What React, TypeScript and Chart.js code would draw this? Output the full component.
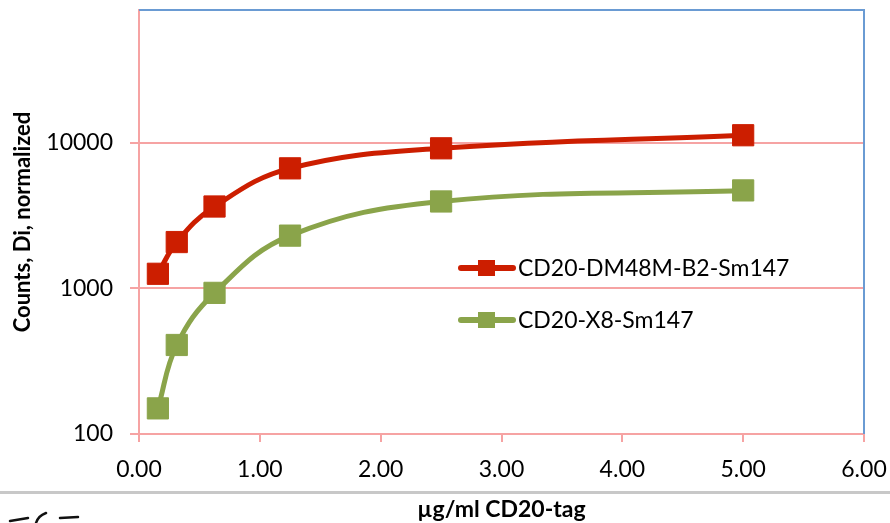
import React, { useEffect, useRef } from "react";
import { Chart, registerables } from "chart.js";

Chart.register(...registerables);

// ---- data ----
const concentrations = [0.15625, 0.3125, 0.625, 1.25, 2.5, 5];
const dm48Counts = [1262, 2085, 3659, 6692, 9190, 11300];
const x8Counts = [150, 409, 933, 2308, 3963, 4721];
const seriesLabels = ["CD20-DM48M-B2-Sm147", "CD20-X8-Sm147"];
const yTickValues = [100, 1000, 10000];
const xTickValues = [0, 1, 2, 3, 4, 5, 6];
const xTitle = "µg/ml CD20-tag";
const yTitle = "Counts, Di, normalized";

const RED = "#CC1E00";
const GREEN = "#8AA44A";
const PINK = "#F6A3A3";
const BLUE = "#6A9BD3";

const decorPlugin = {
  id: "decor",
  afterDraw(chart: any) {
    const { ctx, chartArea: ca } = chart;
    ctx.save();
    // blue top/right plot border
    ctx.strokeStyle = BLUE;
    ctx.lineWidth = 2;
    ctx.beginPath();
    ctx.moveTo(ca.left, ca.top);
    ctx.lineTo(ca.right, ca.top);
    ctx.lineTo(ca.right, ca.bottom);
    ctx.stroke();

    // legend inside plot
    const rows = [268, 320];
    chart.data.datasets.forEach((ds: any, i: number) => {
      const y = rows[i];
      ctx.strokeStyle = ds.borderColor;
      ctx.lineWidth = 6;
      ctx.lineCap = "round";
      ctx.beginPath();
      ctx.moveTo(461, y);
      ctx.lineTo(513, y);
      ctx.stroke();
      ctx.fillStyle = ds.borderColor;
      ctx.fillRect(478, y - 8, 17, 16);
      ctx.fillStyle = "#000";
      ctx.font = "23px Lato";
      ctx.textBaseline = "middle";
      ctx.textAlign = "left";
      ctx.fillText(ds.label, 518, y + 1);
    });

    // separator line
    ctx.fillStyle = "#C8C8C8";
    ctx.fillRect(0, 491, chart.width, 3);

    // fragment of logo
    ctx.strokeStyle = "#111";
    ctx.lineWidth = 2.5;
    ctx.lineCap = "round";
    ctx.beginPath();
    ctx.moveTo(10, 521);
    ctx.lineTo(28, 518);
    ctx.stroke();
    ctx.beginPath();
    ctx.moveTo(46, 513);
    ctx.quadraticCurveTo(38, 516, 36, 523);
    ctx.stroke();
    ctx.beginPath();
    ctx.moveTo(60, 518);
    ctx.lineTo(78, 517);
    ctx.stroke();
    ctx.restore();
  },
};

const zeroPad = (scale: any) => {
  scale.paddingTop = 0;
  scale.paddingBottom = 0;
  scale.paddingLeft = 0;
  scale.paddingRight = 0;
};

export default function App() {
  const canvasRef = useRef<HTMLCanvasElement>(null);

  useEffect(() => {
    if (!canvasRef.current) return;
    Chart.defaults.font.family = "Lato";
    Chart.defaults.color = "#000";
    const chart = new Chart(canvasRef.current, {
      type: "line",
      data: {
        datasets: [
          {
            label: seriesLabels[0],
            data: concentrations.map((x, i) => ({ x, y: dm48Counts[i] })),
            borderColor: RED,
            backgroundColor: RED,
            borderWidth: 5,
            tension: 0.4,
            pointStyle: "rect",
            pointRadius: 15,
            pointBorderWidth: 1,
            pointBorderColor: RED,
            pointBackgroundColor: RED,
          },
          {
            label: seriesLabels[1],
            data: concentrations.map((x, i) => ({ x, y: x8Counts[i] })),
            borderColor: GREEN,
            backgroundColor: GREEN,
            borderWidth: 5,
            tension: 0.4,
            pointStyle: "rect",
            pointRadius: 15,
            pointBorderWidth: 1,
            pointBorderColor: GREEN,
            pointBackgroundColor: GREEN,
          },
        ],
      },
      options: {
        responsive: false,
        animation: false,
        devicePixelRatio: 1,
        layout: { autoPadding: false, padding: { left: 0, right: 26, top: 10, bottom: 0 } },
        plugins: {
          legend: { display: false },
          tooltip: { enabled: false },
        },
        events: [],
        scales: {
          x: {
            type: "linear",
            min: 0,
            max: 6,
            afterBuildTicks: (scale: any) => {
              scale.ticks = xTickValues.map((v) => ({ value: v }));
            },
            afterFit: (scale: any) => {
              scale.height = 89;
              zeroPad(scale);
            },
            ticks: {
              font: { size: 23 },
              padding: 14,
              maxRotation: 0,
              callback: (v: any) => Number(v).toFixed(2),
            },
            grid: {
              drawOnChartArea: false,
              drawTicks: true,
              tickLength: 8,
              color: PINK,
              lineWidth: 2,
            },
            border: { display: true, color: PINK, width: 2 },
            title: {
              display: true,
              text: xTitle,
              font: { size: 23, weight: "bold" },
              padding: { top: 0, bottom: 0 },
            },
          },
          y: {
            type: "logarithmic",
            min: 100,
            max: 82000,
            afterBuildTicks: (scale: any) => {
              scale.ticks = yTickValues.map((v) => ({ value: v }));
            },
            afterFit: (scale: any) => {
              scale.width = 139;
              zeroPad(scale);
            },
            ticks: {
              font: { size: 23, lineHeight: 0.8 },
              padding: 17,
              callback: (v: any) => String(v),
            },
            grid: {
              drawOnChartArea: true,
              drawTicks: true,
              tickLength: 9,
              color: PINK,
              lineWidth: 2,
            },
            border: { display: true, color: PINK, width: 2 },
            title: {
              display: true,
              text: yTitle,
              font: { size: 22, weight: "bold" },
              padding: { top: 10, bottom: 0 },
            },
          },
        },
      },
      plugins: [decorPlugin],
    } as any);
    return () => chart.destroy();
  }, []);

  return (
    <div style={{ position: "absolute", left: 0, top: 0, width: 890, height: 523, background: "#fff" }}>
      <canvas ref={canvasRef} width={890} height={523} style={{ display: "block" }} />
    </div>
  );
}
